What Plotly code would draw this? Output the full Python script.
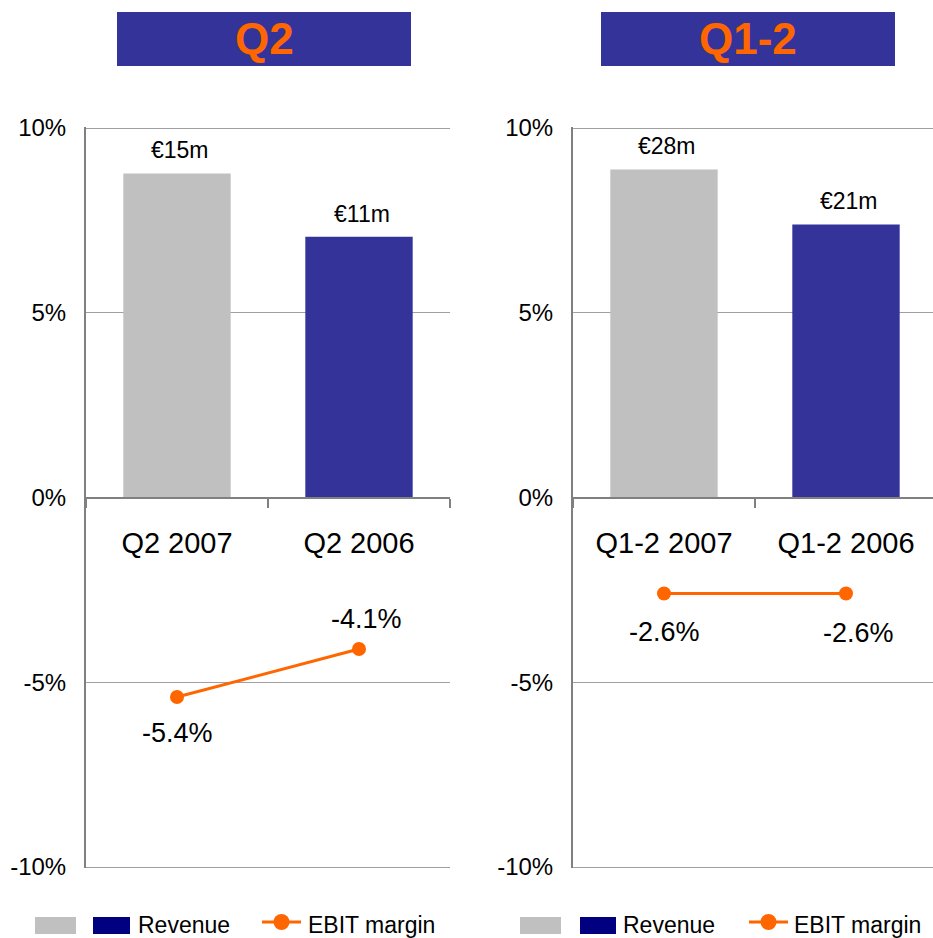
import plotly.graph_objects as go

# ---------------- data ----------------
q2_categories = ["Q2 2007", "Q2 2006"]
h1_categories = ["Q1-2 2007", "Q1-2 2006"]
q2_revenue_bar = [8.77, 7.06]
h1_revenue_bar = [8.88, 7.39]
q2_revenue_labels = ["€15m", "€11m"]
h1_revenue_labels = ["€28m", "€21m"]
q2_ebit_margin = [-5.4, -4.1]
h1_ebit_margin = [-2.6, -2.6]
y_ticks = [-10, -5, 0, 5, 10]
y_tick_labels = ["-10%", "-5%", "0%", "5%", "10%"]
panel_titles = ["Q2", "Q1-2"]

# ---------------- style ----------------
W, H = 933, 938
FONT = "Liberation Sans, Arial, sans-serif"
GRAY_BAR = "#C0C0C0"
BLUE_BAR = "#333399"
NAVY = "#000080"
ORANGE = "#FF6600"
AXIS_GRAY = "#808080"
GRID_GRAY = "#A0A0A0"

def px(x):
    return x / W

def py(y):
    return 1 - y / H

PAD = 0.03                      # tiny range padding so the 10% / -10% gridlines are drawn
unit_px = (867 - 128) / 20.0
y_dom = [py(867 + PAD * unit_px), py(128 - PAD * unit_px)]
zero_pos = (y_dom[0] + y_dom[1]) / 2

fig = go.Figure()

panels = [
    dict(cats=q2_categories, bars=q2_revenue_bar, blabels=q2_revenue_labels,
         ebit=q2_ebit_margin, xa="x", ya="y", dom=[px(86), px(450)], rng=[-0.5, 1.5],
         ebit_shift=[(0, -36), (7, 30)]),
    dict(cats=h1_categories, bars=h1_revenue_bar, blabels=h1_revenue_labels,
         ebit=h1_ebit_margin, xa="x2", ya="y2", dom=[px(573), 1.0], rng=[-0.5, 1.478],
         ebit_shift=[(0, -38), (12, -39)]),
]

annotations = []
for i, p in enumerate(panels):
    fig.add_trace(go.Bar(
        x=p["cats"], y=p["bars"], xaxis=p["xa"], yaxis=p["ya"],
        marker=dict(color=[GRAY_BAR, BLUE_BAR], line=dict(width=0)),
        width=0.59, showlegend=False, hoverinfo="skip"))
    fig.add_trace(go.Scatter(
        x=p["cats"], y=p["ebit"], xaxis=p["xa"], yaxis=p["ya"], mode="lines+markers",
        line=dict(color=ORANGE, width=3), marker=dict(color=ORANGE, size=14),
        showlegend=False, hoverinfo="skip"))
    for c, v, t in zip(p["cats"], p["bars"], p["blabels"]):
        annotations.append(dict(x=c, y=v, xref=p["xa"], yref=p["ya"], text=t,
                                showarrow=False, yshift=23, xshift=3,
                                font=dict(size=23, color="black", family=FONT)))
    for (c, v), (dx, dy) in zip(zip(p["cats"], p["ebit"]), p["ebit_shift"]):
        annotations.append(dict(x=c, y=v, xref=p["xa"], yref=p["ya"], text=f"{v:.1f}%",
                                showarrow=False, xshift=dx, yshift=dy,
                                font=dict(size=27, color="black", family=FONT)))
    xkey = "xaxis" if i == 0 else "xaxis2"
    ykey = "yaxis" if i == 0 else "yaxis2"
    fig.update_layout(**{
        xkey: dict(domain=p["dom"], range=p["rng"], type="category", anchor="free",
                   position=zero_pos, showline=True, linecolor=AXIS_GRAY, linewidth=2,
                   ticks="outside", tickson="boundaries", ticklen=9, tickcolor=AXIS_GRAY,
                   tickwidth=2, showgrid=False, zeroline=False, ticklabelstandoff=20,
                   automargin=False,
                   tickfont=dict(size=29, color="black", family=FONT), fixedrange=True),
        ykey: dict(domain=y_dom, range=[-10 - PAD, 10 + PAD], anchor=p["xa"], tickvals=y_ticks,
                   ticktext=y_tick_labels, showline=True, linecolor=AXIS_GRAY, linewidth=2,
                   showgrid=True, gridcolor=GRID_GRAY, gridwidth=1, zeroline=False,
                   ticks="", ticklabelstandoff=13, automargin=False,
                   tickfont=dict(size=24, color="black", family=FONT), fixedrange=True),
    })

# title boxes
shapes = []
title_boxes = [(117, 411), (601, 895)]
for (x0, x1), t in zip(title_boxes, panel_titles):
    shapes.append(dict(type="rect", xref="paper", yref="paper", x0=px(x0), x1=px(x1),
                       y0=py(66), y1=py(12), fillcolor=BLUE_BAR, line=dict(width=0)))
    annotations.append(dict(x=px((x0 + x1) / 2), y=py(39), xref="paper", yref="paper",
                            text=f"<b>{t}</b>", showarrow=False, xanchor="center", yanchor="middle",
                            font=dict(size=44, color=ORANGE, family=FONT)))

# legends (drawn manually, one below each panel)
legend_sets = [
    dict(gray=(35, 76), navy=(93, 130), rev_x=136, line=(262, 301), ebit_x=306),
    dict(gray=(520, 561), navy=(580, 616), rev_x=621, line=(749, 788), ebit_x=792),
]
for L in legend_sets:
    shapes.append(dict(type="rect", xref="paper", yref="paper", x0=px(L["gray"][0]), x1=px(L["gray"][1]),
                       y0=py(934), y1=py(917), fillcolor=GRAY_BAR, line=dict(width=0)))
    shapes.append(dict(type="rect", xref="paper", yref="paper", x0=px(L["navy"][0]), x1=px(L["navy"][1]),
                       y0=py(934), y1=py(917), fillcolor=NAVY, line=dict(width=0)))
    shapes.append(dict(type="line", xref="paper", yref="paper", x0=px(L["line"][0]), x1=px(L["line"][1]),
                       y0=py(922), y1=py(922), line=dict(color=ORANGE, width=3)))
    cx = (L["line"][0] + L["line"][1]) / 2
    shapes.append(dict(type="circle", xref="paper", yref="paper", x0=px(cx - 8), x1=px(cx + 8),
                       y0=py(930), y1=py(914), fillcolor=ORANGE, line=dict(width=0)))
    annotations.append(dict(x=px(L["rev_x"]), y=py(925), xref="paper", yref="paper", text="Revenue",
                            showarrow=False, xanchor="left", yanchor="middle",
                            font=dict(size=23, color="black", family=FONT)))
    annotations.append(dict(x=px(L["ebit_x"]), y=py(925), xref="paper", yref="paper", text="EBIT margin",
                            showarrow=False, xanchor="left", yanchor="middle",
                            font=dict(size=23, color="black", family=FONT)))

fig.update_layout(width=W, height=H, margin=dict(l=0, r=0, t=0, b=0, autoexpand=False),
                  paper_bgcolor="white", plot_bgcolor="white", showlegend=False,
                  shapes=shapes, annotations=annotations, barmode="overlay",
                  font=dict(family=FONT))

fig.write_html("out.html", config={"displayModeBar": False},
               post_script="document.body.style.margin='0px';document.body.style.overflow='hidden';")
